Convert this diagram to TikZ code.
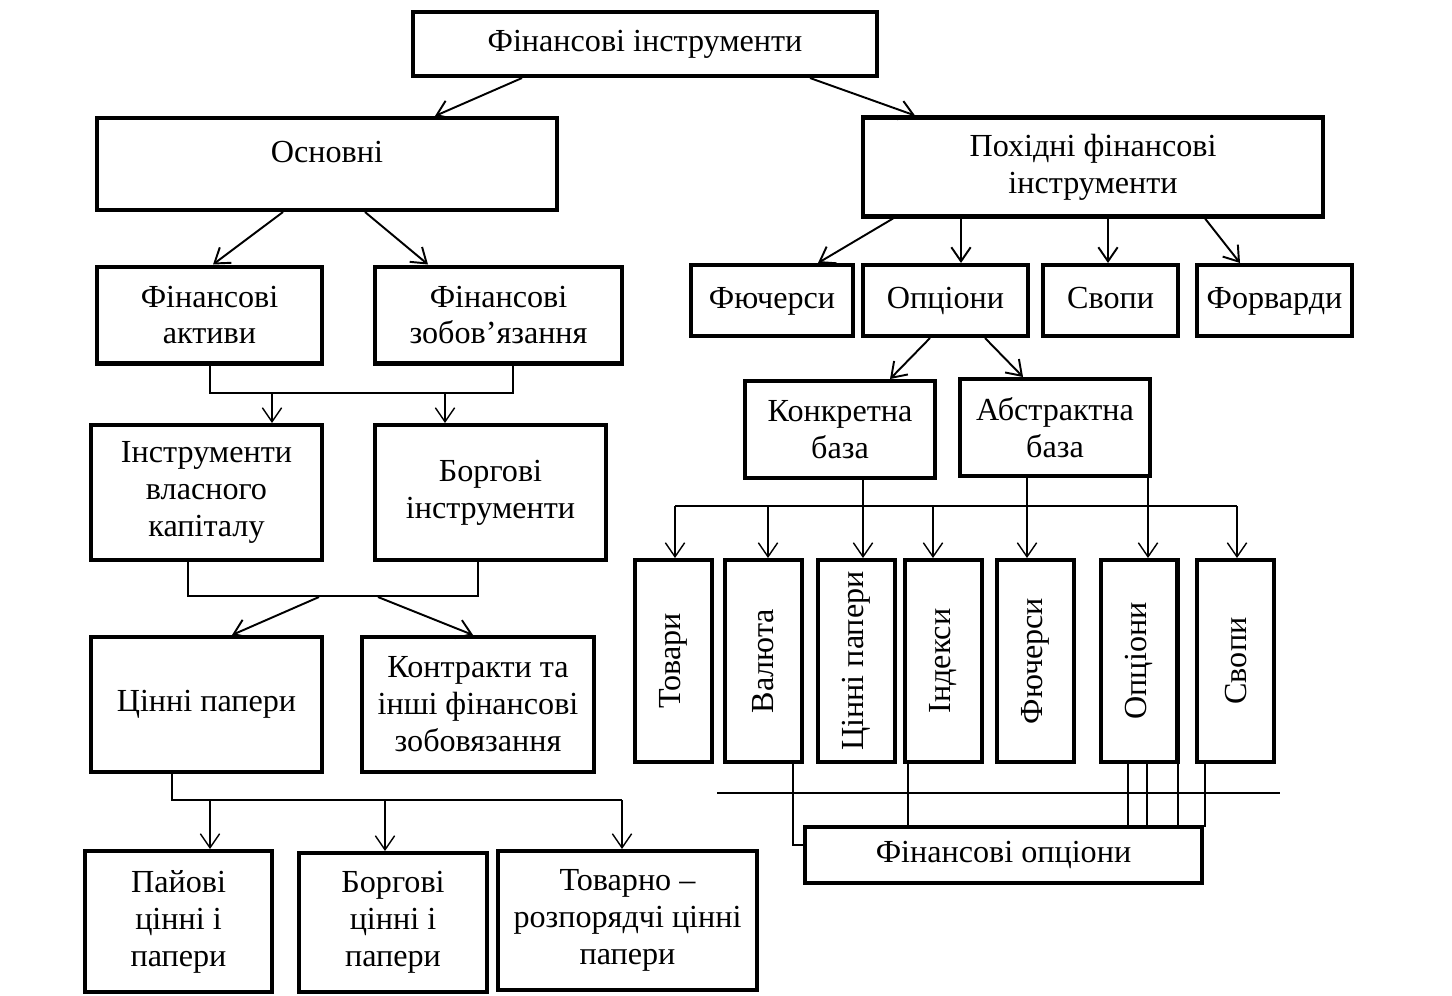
\documentclass[tikz,border=0pt]{standalone}
\usepackage{fontspec}
\setmainfont{Liberation Serif}
\usetikzlibrary{arrows.meta}

\begin{document}
\begin{tikzpicture}[x=0.02cm,y=-0.02cm,>={Straight Barb[length=8pt,width=11pt]},
    every node/.style={font=\fontsize{18.3}{21}\selectfont},
    box/.style={draw,line width=2.3pt,align=center,inner sep=0pt},
    rowbox/.style={box,minimum height=1.42cm,text height=13pt,text depth=4pt},
    vbox/.style={box,minimum width=1.54cm,minimum height=4.04cm},
    link/.style={line width=1.1pt},
    bus/.style={line width=0.8pt}]
  \useasboundingbox (0,0) rectangle (1452,995);

  % upper level
  \node[box,minimum width=9.28cm,minimum height=1.28cm] (fin_i) at (645,44) {Фінансові інструменти};
  \node[box,minimum width=9.2cm,minimum height=1.84cm] (osn) at (327,164) {Основні\\[-7pt]\mbox{}};
  \node[box,minimum width=9.22cm,minimum height=1.98cm] (poh) at (1093,167) {Похідні фінансові\\інструменти};

  % left branch
  \node[box,minimum width=4.5cm,minimum height=1.94cm] (f_akt) at (209.5,315) {Фінансові\\активи};
  \node[box,minimum width=4.94cm,minimum height=1.94cm] (f_zob) at (498.5,315) {Фінансові\\зобов’язання};
  \node[box,minimum width=4.62cm,minimum height=2.7cm] (vl_k) at (206.5,492.5) {Інструменти\\власного\\капіталу};
  \node[box,minimum width=4.62cm,minimum height=2.7cm] (borg_i) at (490.5,492.5) {Боргові\\інструменти};
  \node[box,minimum width=4.62cm,minimum height=2.7cm] (cin_p) at (206.5,704.5) {Цінні папери};
  \node[box,minimum width=4.64cm,minimum height=2.7cm] (kontr) at (478,704.5) {Контракти та\\інші фінансові\\зобовязання};
  \node[box,minimum width=3.74cm,minimum height=2.82cm] (pai) at (178.5,921.5) {Пайові\\цінні і\\папери};
  \node[box,minimum width=3.76cm,minimum height=2.78cm] (borg_cp) at (393,922.5) {Боргові\\цінні і\\папери};
  \node[box,minimum width=5.18cm,minimum height=2.78cm] (tov_r) at (627.5,920.5) {Товарно –\\розпорядчі цінні\\папери};

  % right branch
  \node[rowbox,minimum width=3.24cm] (fut) at (772,300.5) {Фючерси};
  \node[rowbox,minimum width=3.3cm] (opc) at (945.5,300.5) {Опціони};
  \node[rowbox,minimum width=2.7cm] (svop) at (1110.5,300.5) {Свопи};
  \node[rowbox,minimum width=3.1cm] (forv) at (1274.5,300.5) {Форварди};
  \node[box,minimum width=3.8cm,minimum height=1.94cm] (konk) at (840,429.5) {Конкретна\\база};
  \node[box,minimum width=3.8cm,minimum height=1.94cm] (abst) at (1055,427.5) {Абстрактна\\база};
  \foreach \x/\n/\t in {673.5/b_1/Товари,763.5/b_2/Валюта,856.5/b_3/Цінні папери,
      943.5/b_4/Індекси,1035.5/b_5/Фючерси,1139/b_6/Опціони,1235.5/b_7/Свопи}
    \node[vbox] (\n) at (\x,661) {\rotatebox{90}{\t}};
  \node[box,minimum width=7.94cm,minimum height=1.12cm] (fin_o) at (1003.5,855) {Фінансові опціони};

  % bus points
  \coordinate (l_1) at (210,393);
  \coordinate (l_2) at (513,393);
  \coordinate (l_3) at (188,596);
  \coordinate (l_4) at (478,596);
  \coordinate (l_5) at (172,800);
  \coordinate (l_6) at (622,800);
  \coordinate (r_1) at (675,506);
  \coordinate (r_2) at (1237,506);
  \coordinate (r_3) at (717,793);
  \coordinate (r_4) at (1280,793);

  \path[->,link]
    (fin_i.south -| 522,0) edge (osn.north -| 435,0)
    (fin_i.south -| 810,0) edge (poh.north -| 915,0)
    (osn.south -| 283,0) edge (f_akt.north -| 213,0)
    (osn.south -| 365,0) edge (f_zob.north -| 428,0)
    (319,597) edge (cin_p.north -| 232,0)
    (378,597) edge (kontr.north -| 473,0)
    (poh.south -| 893,0) edge (fut.north -| 818,0)
    (poh.south -| 961,0) edge (opc.north -| 961,0)
    (poh.south -| 1108,0) edge (svop.north -| 1108,0)
    (poh.south -| 1205,0) edge (forv.north -| 1240,0)
    (opc.south -| 930,0) edge (konk.north -| 890,0)
    (opc.south -| 985,0) edge (abst.north -| 1023,0);

  \draw[bus] (f_akt.south -| l_1) -- (l_1) -- (l_2) -- (f_zob.south -| l_2);
  \draw[bus,->] (l_1 -| 272,0) -- (vl_k.north -| 272,0);
  \draw[bus,->] (l_1 -| 445,0) -- (borg_i.north -| 445,0);
  \draw[bus] (vl_k.south -| l_3) -- (l_3) -- (l_4) -- (borg_i.south -| l_4);
  \draw[bus] (cin_p.south -| l_5) -- (l_5) -- (l_6);
  \draw[bus,->] (l_5 -| 210,0) -- (pai.north -| 210,0);
  \draw[bus,->] (l_5 -| 385,0) -- (borg_cp.north -| 385,0);
  \draw[bus,->] (l_6) -- (tov_r.north -| l_6);

  \draw[bus] (r_1) -- (r_2);
  \draw[bus] (konk.south -| 863,0) -- (863,506);
  \draw[bus] (abst.south -| 1027,0) -- (1027,506);
  \draw[bus] (abst.south -| 1148,0) -- (1148,506);
  \foreach \x/\n in {675/b_1,768/b_2,863/b_3,933/b_4,1027/b_5,1148/b_6,1237/b_7}
    \draw[bus,->] (r_1 -| \x,0) -- (\n.north -| \x,0);

  \draw[bus] (r_3) -- (r_4);
  \draw[bus] (b_2.south -| 793,0) -- (793,845) -- (fin_o.west |- 0,845);
  \draw[bus] (b_4.south -| 908,0) -- (fin_o.north -| 908,0);
  \foreach \x in {1128,1147,1178}
    \draw[bus] (b_6.south -| \x,0) -- (fin_o.north -| \x,0);
  \draw[bus] (b_7.south -| 1205,0) -- (1205,827);
\end{tikzpicture}
\end{document}
